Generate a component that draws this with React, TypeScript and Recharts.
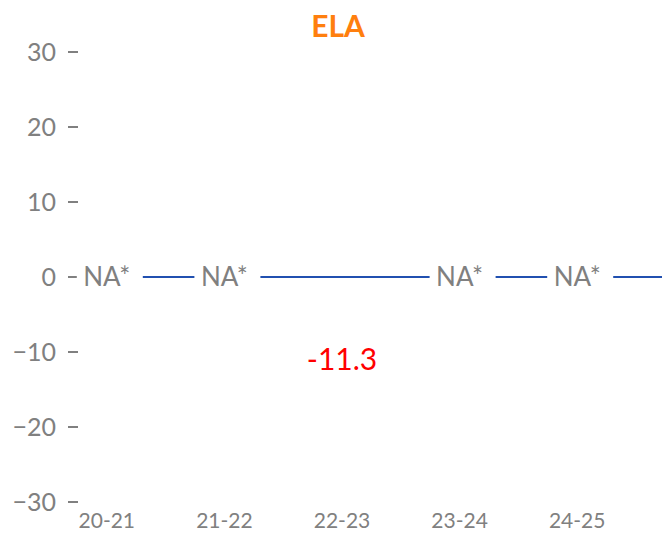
import React from "react";
import {
  ComposedChart, Bar, Line, XAxis, YAxis, ReferenceLine, LabelList,
} from "recharts";

const categories = ["20-21", "21-22", "22-23", "23-24", "24-25"];
const elaValues: (number | null)[] = [null, null, -11.3, null, null];
// rows with no reported value sit on the zero line and read "NA*"
const naMarks: (number | null)[] = [0, 0, null, 0, 0];
const yTicks = [-30, -20, -10, 0, 10, 20, 30];

const FONT = "Lato, 'Open Sans', sans-serif";
const GRAY = "#808080";
const BLUE = "#2150b0";

const data = categories.map((cat, i) => ({
  cat,
  value: elaValues[i],
  na: naMarks[i],
}));

/** "NA*" on a white patch that cuts the zero line */
function renderNA(props: any) {
  const { cx, cy, index, payload } = props;
  if (payload?.na == null || cx == null || cy == null) return <g key={`na-${index}`} />;
  return (
    <g key={`na-${index}`}>
      <rect x={cx - 30} y={cy - 16} width={66} height={32} fill="#fff" />
      <text x={cx} y={cy + 9} textAnchor="middle" fontSize={26} fill={GRAY} fontFamily={FONT}>
        NA*
      </text>
    </g>
  );
}

/** red value label at the end of the (invisible) bar */
function renderValue(props: any) {
  const { x, y, width, height, value } = props;
  if (value == null) return null;
  const top = Math.min(Number(y), Number(y) + Number(height));
  const bottom = Math.max(Number(y), Number(y) + Number(height));
  const endY = Number(value) < 0 ? bottom : top;
  return (
    <text
      x={Number(x) + Number(width) / 2}
      y={endY + 8}
      textAnchor="middle"
      fontSize={30}
      fill="#ff0000"
      fontFamily={FONT}
    >
      {String(value)}
    </text>
  );
}

const fmtY = (v: number) => (v < 0 ? `\u2212${Math.abs(v)}` : String(v));

export default function App() {
  return (
    <div style={{ position: "absolute", left: 0, top: 0, width: 662, height: 537, background: "#fff" }}>
      <svg width={662} height={537} style={{ position: "absolute", left: 0, top: 0, pointerEvents: "none", zIndex: 1 }}>
        <text x={338} y={37} textAnchor="middle" fontSize={30} fontWeight={700} fill="#ff7f0e" fontFamily={FONT}>
          ELA
        </text>
      </svg>
      <ComposedChart
        width={662}
        height={537}
        data={data}
        margin={{ top: 52, right: 0, bottom: 0, left: 0 }}
      >
        <XAxis
          dataKey="cat"
          height={35}
          axisLine={false}
          tickLine={false}
          tickSize={0}
          tickMargin={11}
          padding={{ left: -30, right: 26 }}
          tick={{ fill: GRAY, fontSize: 21, fontFamily: FONT }}
        />
        <YAxis
          width={78}
          domain={[-30, 30]}
          ticks={yTicks}
          axisLine={false}
          tickSize={10}
          tickMargin={12}
          tickLine={{ stroke: GRAY, strokeWidth: 2 }}
          tickFormatter={fmtY}
          tick={{ fill: GRAY, fontSize: 25, fontFamily: FONT }}
        />
        <ReferenceLine y={0} stroke={BLUE} strokeWidth={2} />
        <Bar dataKey="value" fill="none" isAnimationActive={false}>
          <LabelList dataKey="value" content={renderValue} />
        </Bar>
        <Line
          dataKey="na"
          stroke="none"
          dot={renderNA}
          activeDot={false}
          isAnimationActive={false}
        />
      </ComposedChart>
    </div>
  );
}
